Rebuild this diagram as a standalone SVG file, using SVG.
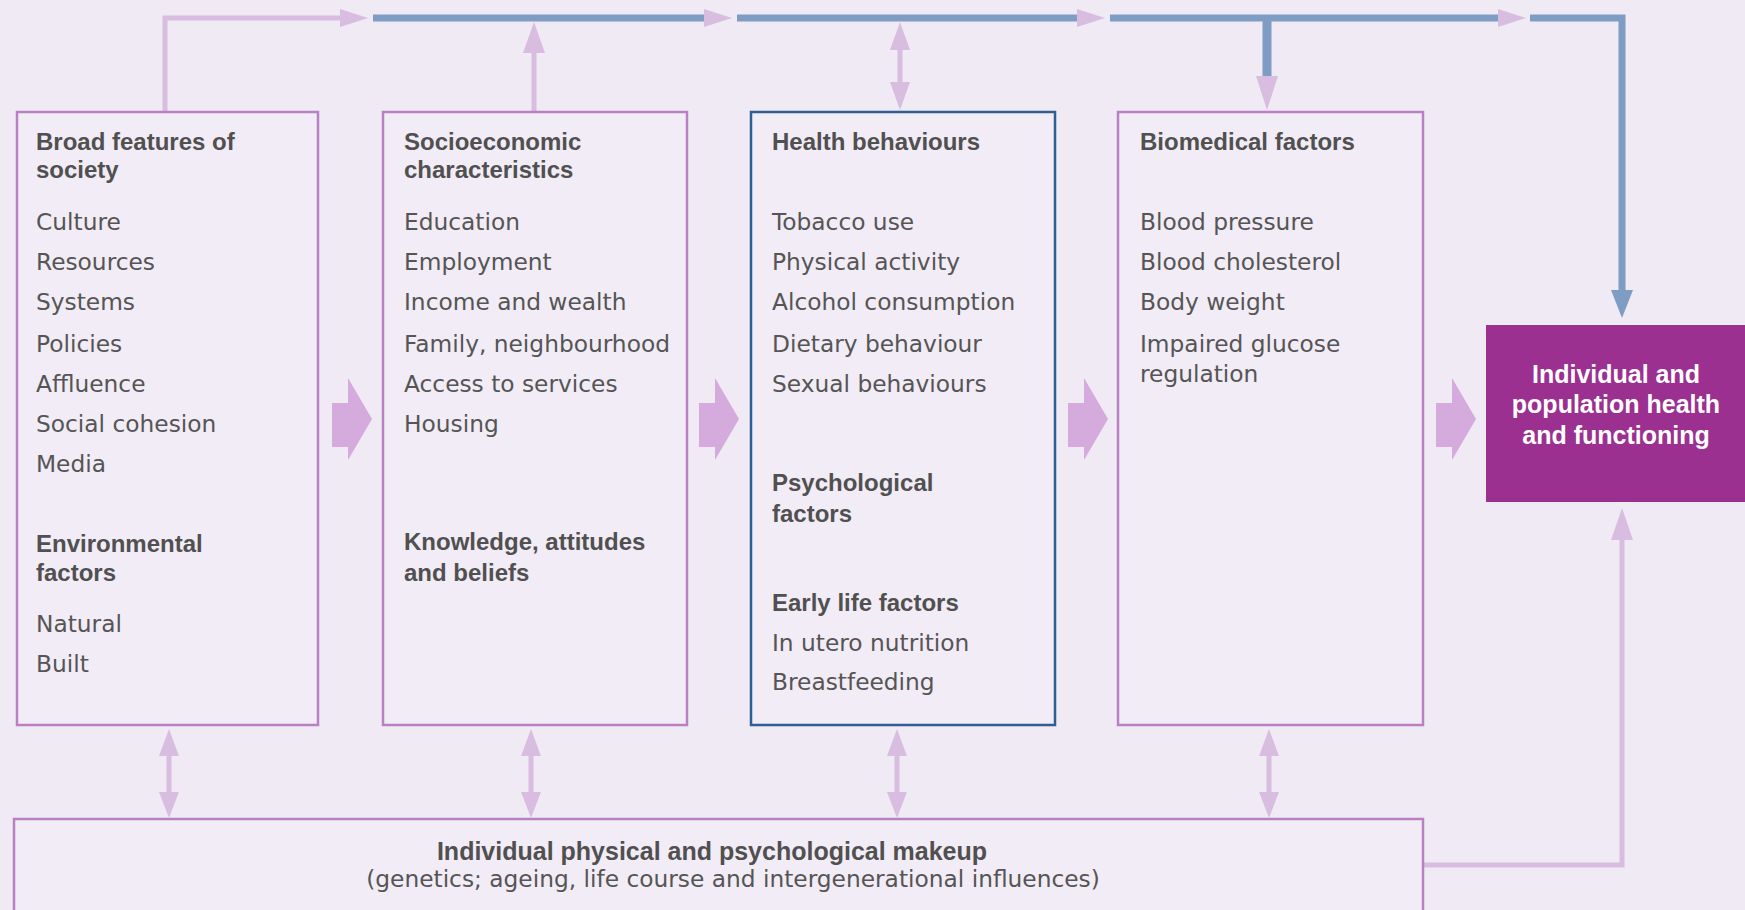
<svg xmlns="http://www.w3.org/2000/svg" width="1745" height="910" viewBox="0 0 1745 910">
<style>
.box{fill:#f2ecf6;stroke:#b981c3;stroke-width:2.5}
.box3{fill:#f2ecf6;stroke:#2f5d95;stroke-width:2.5}
.h{font-family:"Liberation Sans",Arial,sans-serif;font-weight:bold;font-size:24px;fill:#505050}
.hb{font-family:"Liberation Sans",Arial,sans-serif;font-weight:bold;font-size:25px;fill:#505050;text-anchor:middle}
.t{font-family:"DejaVu Sans",sans-serif;font-size:23.3px;fill:#555555}
.w{font-family:"Liberation Sans",Arial,sans-serif;font-weight:bold;font-size:25px;fill:#ffffff;text-anchor:middle}
.pl{fill:none;stroke:#d8bde0;stroke-width:5}
.bl{fill:none;stroke:#7f9cc4;stroke-width:7}
.ph{fill:#d8bde0}
.ba{fill:#d4abdc}
</style>
<rect width="1745" height="910" fill="#f0eaf5"/>
<g id="connectors">
  <path class="pl" d="M165,112 V18 H342"/>
  <polygon class="ph" points="340,9 368,18 340,27"/>
  <path class="bl" d="M373,18 H704"/>
  <path class="bl" d="M737,18 H1077"/>
  <path class="bl" d="M1110,18 H1498"/>
  <path class="bl" d="M1530,18 H1622 V292" stroke-linejoin="miter"/>
  <polygon fill="#7f9cc4" points="1611,290 1633,290 1622,318"/>
  <polygon class="ph" points="704,9 732,18 704,27"/>
  <polygon class="ph" points="1077,9 1105,18 1077,27"/>
  <polygon class="ph" points="1498,9 1526,18 1498,27"/>
  <path class="pl" d="M534,112 V50" stroke-width="6"/>
  <polygon class="ph" points="523,53 545,53 534,22"/>
  <path class="pl" d="M900,45 V88"/>
  <polygon class="ph" points="890,50 910,50 900,22"/>
  <polygon class="ph" points="890,82 910,82 900,110"/>
  <path fill="none" stroke="#7f9cc4" stroke-width="9" d="M1267,18 V78"/>
  <polygon class="ph" points="1256,76 1278,76 1267,110"/>
  <polygon class="ba" points="332,403 348,403 348,378 372,419 348,460 348,447 332,447"/>
  <polygon class="ba" points="699,403 715,403 715,378 739,419 715,460 715,447 699,447"/>
  <polygon class="ba" points="1068,403 1084,403 1084,378 1108,419 1084,460 1084,447 1068,447"/>
  <polygon class="ba" points="1436,403 1452,403 1452,378 1476,419 1452,460 1452,447 1436,447"/>
  <path class="pl" d="M169,752 V796" stroke-width="6"/>
  <polygon class="ph" points="159,756 179,756 169,729"/>
  <polygon class="ph" points="159,792 179,792 169,818"/>
  <path class="pl" d="M531,752 V796" stroke-width="6"/>
  <polygon class="ph" points="521,756 541,756 531,729"/>
  <polygon class="ph" points="521,792 541,792 531,818"/>
  <path class="pl" d="M897,752 V796" stroke-width="6"/>
  <polygon class="ph" points="887,756 907,756 897,729"/>
  <polygon class="ph" points="887,792 907,792 897,818"/>
  <path class="pl" d="M1269,752 V796" stroke-width="6"/>
  <polygon class="ph" points="1259,756 1279,756 1269,729"/>
  <polygon class="ph" points="1259,792 1279,792 1269,818"/>
  <path class="pl" d="M1423,865 H1622 V538" stroke-width="6"/>
  <polygon class="ph" points="1611,540 1633,540 1622,508"/>
</g>
<g id="society">
  <rect class="box" x="17" y="112" width="301" height="613"/>
  <text class="h" x="36" y="150">Broad features of</text>
  <text class="h" x="36" y="178">society</text>
  <text class="t" x="36" y="230">Culture</text>
  <text class="t" x="36" y="270">Resources</text>
  <text class="t" x="36" y="310">Systems</text>
  <text class="t" x="36" y="352">Policies</text>
  <text class="t" x="36" y="392">Affluence</text>
  <text class="t" x="36" y="432">Social cohesion</text>
  <text class="t" x="36" y="472">Media</text>
  <text class="h" x="36" y="552">Environmental</text>
  <text class="h" x="36" y="581">factors</text>
  <text class="t" x="36" y="632">Natural</text>
  <text class="t" x="36" y="672">Built</text>
</g>
<g id="socioeconomic">
  <rect class="box" x="383" y="112" width="304" height="613"/>
  <text class="h" x="404" y="150">Socioeconomic</text>
  <text class="h" x="404" y="178">characteristics</text>
  <text class="t" x="404" y="230">Education</text>
  <text class="t" x="404" y="270">Employment</text>
  <text class="t" x="404" y="310">Income and wealth</text>
  <text class="t" x="404" y="352">Family, neighbourhood</text>
  <text class="t" x="404" y="392">Access to services</text>
  <text class="t" x="404" y="432">Housing</text>
  <text class="h" x="404" y="550">Knowledge, attitudes</text>
  <text class="h" x="404" y="581">and beliefs</text>
</g>
<g id="behaviours">
  <rect class="box3" x="751" y="112" width="304" height="613"/>
  <text class="h" x="772" y="150">Health behaviours</text>
  <text class="t" x="772" y="230">Tobacco use</text>
  <text class="t" x="772" y="270">Physical activity</text>
  <text class="t" x="772" y="310">Alcohol consumption</text>
  <text class="t" x="772" y="352">Dietary behaviour</text>
  <text class="t" x="772" y="392">Sexual behaviours</text>
  <text class="h" x="772" y="491">Psychological</text>
  <text class="h" x="772" y="522">factors</text>
  <text class="h" x="772" y="611">Early life factors</text>
  <text class="t" x="772" y="651">In utero nutrition</text>
  <text class="t" x="772" y="690">Breastfeeding</text>
</g>
<g id="biomedical">
  <rect class="box" x="1118" y="112" width="305" height="613"/>
  <text class="h" x="1140" y="150">Biomedical factors</text>
  <text class="t" x="1140" y="230">Blood pressure</text>
  <text class="t" x="1140" y="270">Blood cholesterol</text>
  <text class="t" x="1140" y="310">Body weight</text>
  <text class="t" x="1140" y="352">Impaired glucose</text>
  <text class="t" x="1140" y="382">regulation</text>
</g>
<g id="outcome">
  <rect x="1486" y="325" width="270" height="177" fill="#9c3091"/>
  <text class="w" x="1616" y="383">Individual and</text>
  <text class="w" x="1616" y="413">population health</text>
  <text class="w" x="1616" y="444">and functioning</text>
</g>
<g id="makeup">
  <rect class="box" x="14" y="819" width="1409" height="100"/>
  <text class="hb" x="712" y="860">Individual physical and psychological makeup</text>
  <text class="t" x="733" y="887" text-anchor="middle">(genetics; ageing, life course and intergenerational influences)</text>
</g>
</svg>
